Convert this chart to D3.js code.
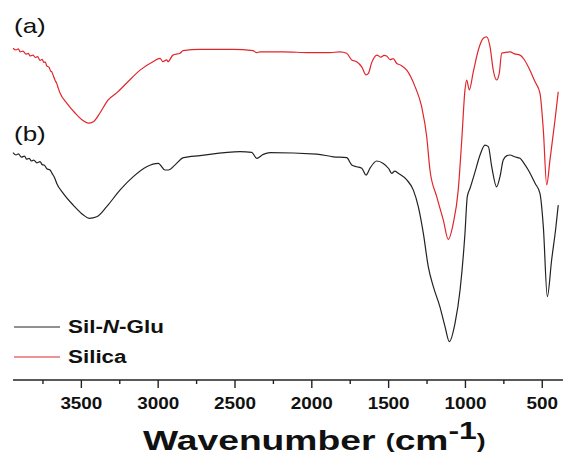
<!DOCTYPE html>
<html><head><meta charset="utf-8">
<script src="https://cdn.jsdelivr.net/npm/d3@7"></script>
<style>body{margin:0;background:#fff}svg{display:block}text{font-family:"Liberation Sans",Arial,sans-serif}</style>
</head><body><svg id="c" width="565" height="456"></svg>
<script>
// wavenumber (cm-1) and transmittance (a.u.)
const silicaWn = [3945,3925,3910,3899,3880,3860,3845,3834,3815,3800,3785,3769,3755,3745,3735,3726,3710,3700,3693,3683,3672,3660,3650,3639,3595,3541,3487,3455,3422,3379,3327,3270,3205,3118,3034,2988,2969,2945,2936,2904,2858,2838,2728,2513,2383,2359,2337,2188,2012,1882,1817,1773,1740,1708,1675,1647,1632,1610,1576,1550,1530,1513,1490,1470,1448,1420,1382,1328,1285,1252,1231,1187,1144,1112,1079,1047,1024,1003,992,975,949,916,884,862,840,819,797,780,764,740,710,680,645,620,591,547,515,493,471,450,417,396];
const silicaT  = [110.6,110.0,110.4,109.4,109.6,108.6,108.9,108.0,108.3,107.5,107.8,106.5,106.9,105.9,106.0,104.8,104.2,103.0,102.8,101.5,100,98.8,97.2,95.7,92.3,89,86.4,85.6,86.1,89,93.3,95.7,99,103.3,106.1,107.2,106.1,106.7,106.1,108.3,108.9,109.8,110.2,110.2,109.8,109.1,109.4,109.4,109.1,109.1,109.4,108.9,106.7,106.1,104.4,101.7,102.2,105.8,108.3,107.6,108.2,108,106.8,107.1,105.6,104.9,103.3,97.8,91.1,81.1,70,61.1,53.3,46.9,52.3,63.3,80,96.7,100,96.7,102.7,110,113.9,114.4,111.1,103.3,100,102.2,108.9,109.2,109.4,108.7,108.3,107.0,104.4,99.4,95.6,83.3,65,73.3,86.7,96.1];
const silNGluWn = [3945,3925,3910,3890,3870,3856,3840,3825,3810,3790,3769,3755,3740,3725,3704,3690,3675,3661,3618,3553,3487,3448,3400,3335,3249,3162,3075,2999,2956,2934,2890,2836,2728,2467,2391,2359,2316,2272,1968,1860,1773,1740,1708,1675,1647,1621,1578,1535,1500,1480,1460,1437,1382,1339,1307,1274,1242,1209,1166,1133,1105,1068,1035,1003,988,970,938,905,873,851,829,797,775,754,730,710,680,645,620,591,547,515,493,467,439,411,396];
const silNGluT  = [75.8,75.0,75.4,74.3,74.6,73.6,73.9,73.0,73.3,72.4,72.8,71.8,71.6,70.4,70.0,68.8,67.5,65.6,62.2,58.3,55,53.9,54.4,57.8,63.3,67.8,71.1,72.2,70,70,71.7,74.1,74.8,76.1,75.9,73.9,75.2,75.8,75.3,74.4,74.1,71.7,71.1,70.6,68.3,70.6,73,72.2,70.5,68.9,69.6,68.9,66.7,63.3,57.8,48.9,37.8,31.1,24.4,17.8,12.8,18.9,30,48.9,61.1,63.9,69.3,75,78.3,77.8,71.1,64.4,67.8,73.3,74.8,75,74.4,73.9,72.3,70,65.6,62.2,51.1,27.8,40,51.1,58.3];
const xTicks = [3500,3000,2500,2000,1500,1000,500];
const xMinor = [3750,3250,2750,2250,1750,1250,750];
const seriesNames = ["Sil-N-Glu","Silica"];
const panelLabels = ["(a)","(b)"];

const svg = d3.select("#c");
const x = d3.scaleLinear().domain([3945,365]).range([13,563]);
const y = d3.scaleLinear().domain([0,120]).range([380,20]);
const line = d3.line().x(d=>x(d[0])).y(d=>y(d[1])).curve(d3.curveMonotoneX);
const red = "#e0262b", blk = "#222";

svg.append("path").datum(silicaWn.map((w,i)=>[w,silicaT[i]])).attr("d",line)
  .attr("fill","none").attr("stroke",red).attr("stroke-width",1.2);
svg.append("path").datum(silNGluWn.map((w,i)=>[w,silNGluT[i]])).attr("d",line)
  .attr("fill","none").attr("stroke",blk).attr("stroke-width",1.2);

// axis
const ax = svg.append("g").attr("transform","translate(0,380)");
ax.append("line").attr("x1",13).attr("x2",563).attr("stroke","#222").attr("stroke-width",1.6);
ax.selectAll(".mj").data(xTicks).join("line").attr("x1",d=>x(d)).attr("x2",d=>x(d))
  .attr("y1",0).attr("y2",8).attr("stroke","#222").attr("stroke-width",1.4);
ax.selectAll(".mn").data(xMinor).join("line").attr("x1",d=>x(d)).attr("x2",d=>x(d))
  .attr("y1",0).attr("y2",4).attr("stroke","#222").attr("stroke-width",1.4);
ax.selectAll(".tl").data(xTicks).join("g").attr("transform",d=>`translate(${x(d)},29) scale(1.18,1)`)
  .append("text").attr("text-anchor","middle").attr("font-size",16).attr("font-weight","bold")
  .attr("fill","#111").text(d=>d);

// title
const tg = svg.append("g").attr("transform","translate(143,450) scale(1.33,1)");
const tt = tg.append("text").attr("font-weight","bold").attr("fill","#111").attr("font-size",28);
tt.append("tspan").text("Wavenumber ");
tt.append("tspan").attr("font-size",20).attr("dy",-2).text("(");
tt.append("tspan").attr("dy",2).text("cm");
tt.append("tspan").attr("font-size",24).attr("dy",-11).text("-1");
tt.append("tspan").attr("font-size",20).attr("dy",9).text(")");

// panel labels
svg.append("g").attr("transform","translate(14,33) scale(1.3,1)").append("text")
  .attr("font-size",20).attr("fill","#111").text(panelLabels[0]);
svg.append("g").attr("transform","translate(14,141) scale(1.3,1)").append("text")
  .attr("font-size",20).attr("fill","#111").text(panelLabels[1]);

// legend
const lg = [{n:seriesNames[0],c:blk,y:327},{n:seriesNames[1],c:red,y:357}];
lg.forEach(d=>{
  svg.append("line").attr("x1",14).attr("x2",60).attr("y1",d.y).attr("y2",d.y).attr("stroke",d.c).attr("stroke-width",1.1);
  const t = svg.append("g").attr("transform",`translate(68,${d.y+6}) scale(1.18,1)`).append("text")
    .attr("font-size",19).attr("font-weight","bold").attr("fill","#111");
  if(d.n==="Sil-N-Glu"){
    t.append("tspan").text("Sil-");
    t.append("tspan").attr("font-style","italic").text("N");
    t.append("tspan").text("-Glu");
  } else t.text(d.n);
});
</script></body></html>
